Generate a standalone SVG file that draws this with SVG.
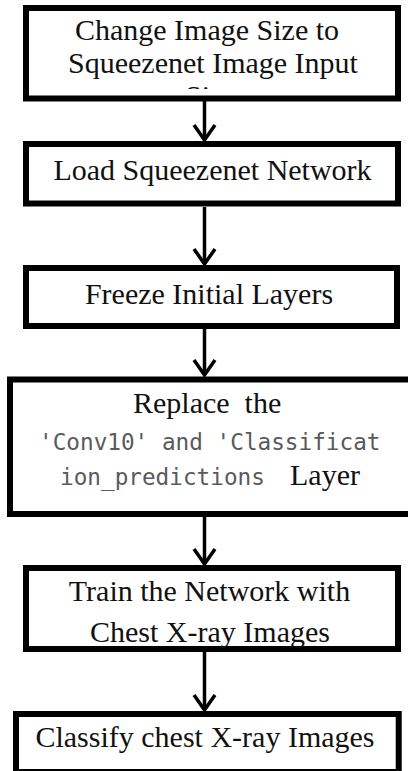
<svg xmlns="http://www.w3.org/2000/svg" width="408" height="771" viewBox="0 0 408 771">
  <style>
    .box { fill: #ffffff; stroke: #000000; stroke-width: 6; }
    .t { font-family: 'Liberation Serif', 'DejaVu Serif', serif; font-size: 30px; fill: #111111; }
    .m { font-family: 'DejaVu Sans Mono', 'Liberation Mono', monospace; font-size: 22.7px; fill: #5a5a5a; }
    .conn { stroke: #000000; stroke-width: 3.5; fill: none; marker-end: url(#arr); }
  </style>
  <defs>
    <marker id="arr" markerUnits="userSpaceOnUse" viewBox="-18 -13 20 26" refX="0" refY="0" markerWidth="20" markerHeight="26" orient="auto">
      <path d="M -15 -10.5 L 0 0 L -15 10.5" fill="none" stroke="#000000" stroke-width="3.5" stroke-linejoin="miter"/>
    </marker>
    <clipPath id="clip1">
      <rect x="29" y="11" width="366" height="78"/>
    </clipPath>
  </defs>
  <rect width="408" height="771" fill="#ffffff"/>

  <g id="connectors">
    <line class="conn" x1="204.5" y1="101" x2="204.5" y2="140"/>
    <line class="conn" x1="204.5" y1="207" x2="204.5" y2="264"/>
    <line class="conn" x1="204.5" y1="329" x2="204.5" y2="375"/>
    <line class="conn" x1="204.5" y1="517" x2="204.5" y2="564"/>
    <line class="conn" x1="204.5" y1="652" x2="204.5" y2="710"/>
  </g>

  <g id="node1">
    <rect class="box" x="26" y="8" width="372" height="90.5"/>
    <text class="t" x="207" y="40" text-anchor="middle">Change Image Size to</text>
    <text class="t" x="213" y="73" text-anchor="middle">Squeezenet Image Input</text>
    <text class="t" x="185" y="106" clip-path="url(#clip1)">Size</text>
  </g>

  <g id="node2">
    <rect class="box" x="26" y="144" width="372" height="59.5"/>
    <text class="t" x="212.5" y="180" text-anchor="middle">Load Squeezenet Network</text>
  </g>

  <g id="node3">
    <rect class="box" x="26" y="268" width="371" height="58"/>
    <text class="t" x="209" y="304" text-anchor="middle">Freeze Initial Layers</text>
  </g>

  <g id="node4">
    <rect class="box" x="10" y="379.5" width="403" height="134.5"/>
    <text class="t" x="133" y="413" xml:space="preserve">Replace  the</text>
    <text class="m" x="39" y="450" xml:space="preserve">'Conv10' and 'Classificat</text>
    <text x="60" y="485"><tspan class="m">ion_predictions</tspan><tspan class="t" x="290">Layer</tspan></text>
  </g>

  <g id="node5">
    <rect class="box" x="26" y="568" width="372" height="81"/>
    <text class="t" x="209.5" y="601" text-anchor="middle">Train the Network with</text>
    <text class="t" x="210" y="642" text-anchor="middle">Chest X-ray Images</text>
  </g>

  <g id="node6">
    <rect class="box" x="16" y="714" width="382.7" height="58"/>
    <text class="t" x="205" y="747" text-anchor="middle">Classify chest X-ray Images</text>
  </g>
</svg>
